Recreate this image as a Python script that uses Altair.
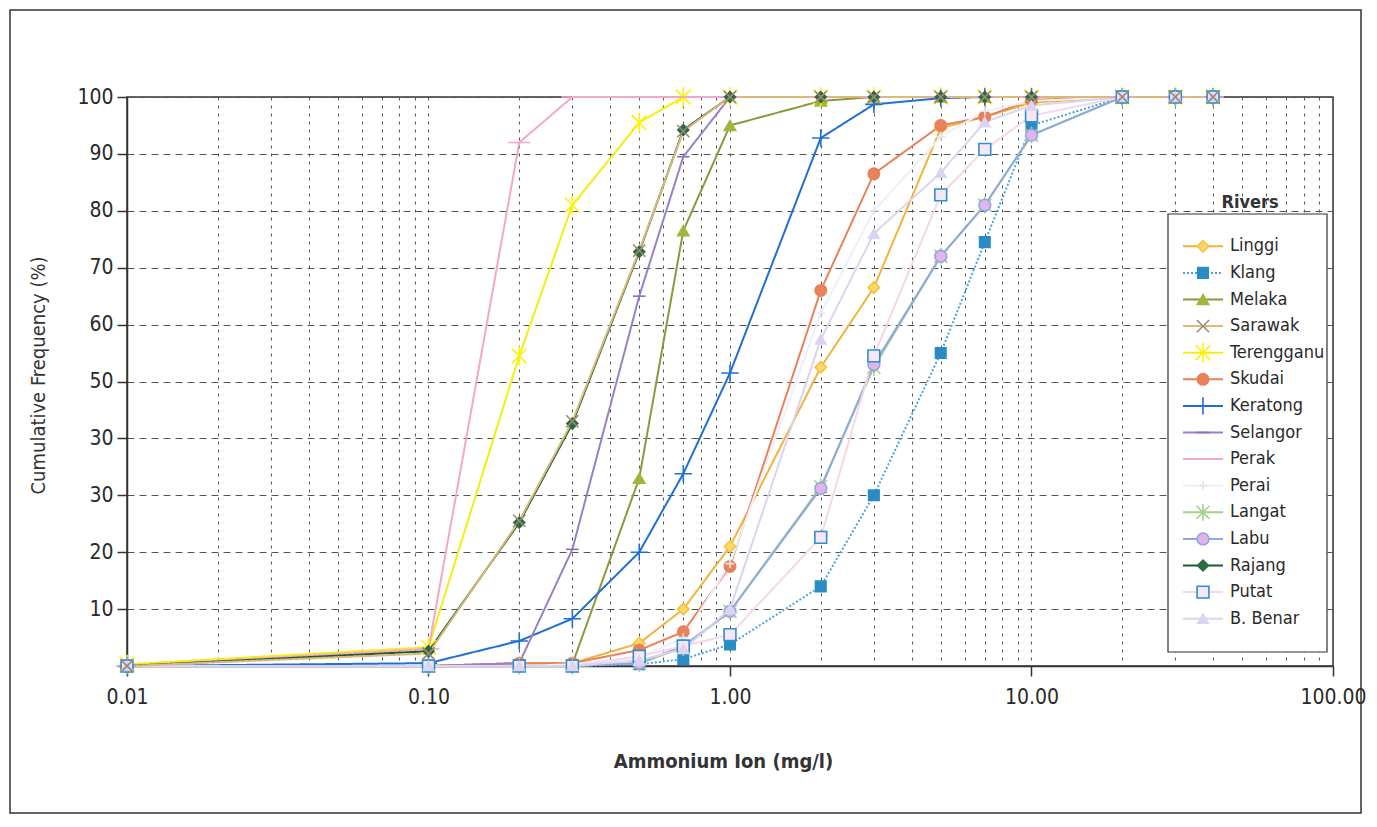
import altair as alt
import pandas as pd

# ---------------- data ----------------
conc = [0.01, 0.1, 0.2, 0.3, 0.5, 0.7, 1, 2, 3, 5, 7, 10, 20, 30, 40]

rivers = ["Linggi", "Klang", "Melaka", "Sarawak", "Terengganu", "Skudai", "Keratong",
          "Selangor", "Perak", "Perai", "Langat", "Labu", "Rajang", "Putat", "B. Benar"]

linggi     = [0, 0, 0.5, 0.5, 4, 10, 21, 52.5, 66.5, 94.5, 96.5, 99, 100, 100, 100]
klang      = [0, 0, 0, 0, 0.3, 1.2, 3.8, 14, 30, 55, 74.5, 95, 100, 100, 100]
melaka     = [0, 0, 0, 0.3, 33, 76.5, 95, 99.3, 100, 100, 100, 100, 100, 100, 100]
sarawak    = [0, 2.2, 25.5, 43, 73, 94, 100, 100, 100, 100, 100, 100, 100, 100, 100]
terengganu = [0.3, 3.3, 54.5, 81, 95.5, 100, 100, 100, 100, 100, 100, 100, 100, 100, 100]
skudai     = [0, 0, 0.5, 0.5, 2.8, 6, 17.5, 66, 86.5, 95, 96.5, 99.5, 100, 100, 100]
keratong   = [0, 0.5, 4.4, 8.3, 20, 33.8, 51.5, 92.8, 98.7, 99.8, 100, 100, 100, 100, 100]
selangor   = [0, 0, 0.5, 20.5, 65, 89.5, 100, 100, 100, 100, 100, 100, 100, 100, 100]
perak      = [0, 3, 92, 100, 100, 100, 100, 100, 100, 100, 100, 100, 100, 100, 100]
perai      = [0, 0, 0, 0.3, 1.5, 5, 18, 62, 80, 93, 97.5, 99.3, 100, 100, 100]
langat     = [0, 0, 0, 0, 0.5, 3.2, 9.6, 31.5, 52.5, 72, 81, 93.3, 100, 100, 100]
labu       = [0, 0, 0, 0, 0.5, 3.5, 9.6, 31.2, 53, 72, 81, 93.3, 100, 100, 100]
rajang     = [0, 2.6, 25.2, 42.6, 72.8, 94.2, 100, 100, 100, 100, 100, 100, 100, 100, 100]
putat      = [0, 0, 0, 0, 1.7, 3.5, 5.5, 22.6, 54.5, 82.8, 90.8, 96.7, 100, 100, 100]
b_benar    = [0, 0, 0, 0, 1, 3, 10, 57.4, 76, 86.7, 95.6, 98.5, 100, 100, 100]

series_values = dict(zip(rivers, [linggi, klang, melaka, sarawak, terengganu, skudai, keratong,
                                  selangor, perak, perai, langat, labu, rajang, putat, b_benar]))

y_ticks = [0, 10, 20, 30, 40, 50, 60, 70, 80, 90, 100]

# ---------------- styles ----------------
line_colors = ["#F2B33D", "#4AA3DF", "#8A9A3C", "#D9BA7A", "#F2EE10", "#E8825A", "#1F6FD6",
               "#9A80C8", "#F4A6CB", "#EDF0F7", "#A8D08D", "#8EA8E0", "#1E5A30", "#F7D6E9", "#DCD3F0"]
fill_colors = ["#FFD966", "#2A8CC4", "#A4B43C", "#A08878", "#FFF200", "#E8825A", "#1F6FD6",
               "#8A6FB8", "#F4A6CB", "#E8ECF4", "#A8D08D", "#E2B4EA", "#2E6B3E", "#F8E6F2", "#DCD3F0"]
stroke_colors = ["#F5C040", "#2A8CC4", "#A4B43C", "#A08878", "#FFF200", "#E8825A", "#1F6FD6",
                 "#8A6FB8", "#F4A6CB", "#E0E6F0", "#A8D08D", "#8EA8E0", "#2E6B3E", "#2F8FD0", "#DCD3F0"]
X_PATH = "M-1,-1L1,1M-1,1L1,-1"
STAR_PATH = "M-1,-1L1,1M-1,1L1,-1M0,-1.3L0,1.3"
PLUS_PATH = "M-1,0L1,0M0,-1L0,1"
DASH_PATH = "M-1,0L1,0"
shapes = ["diamond", "square", "triangle-up", X_PATH, STAR_PATH, "circle", PLUS_PATH,
          DASH_PATH, DASH_PATH, PLUS_PATH, STAR_PATH, "circle", "diamond", "square", "triangle-up"]
marker_sizes = [130, 110, 130, 150, 220, 130, 300, 160, 480, 80, 170, 140, 120, 140, 110]
dashes = [[1, 0]] * 15
dashes[1] = [2, 2]

# drawing order (Sarawak drawn over Rajang, as in the original)
draw_order = [r for r in rivers if r != "Sarawak"] + ["Sarawak"]

rows = []
for name in draw_order:
    vals = series_values[name]
    for i, (c, v) in enumerate(zip(conc, vals)):
        rows.append({"river": name, "conc": c, "freq": v, "i": i,
                     "msize": marker_sizes[rivers.index(name)]})
df = pd.DataFrame(rows)
leg_df = pd.DataFrame({"river": rivers, "msize": marker_sizes})

FONT = "Liberation Sans Narrow, DejaVu Sans Condensed, sans-serif"

color_scale = alt.Scale(domain=rivers, range=line_colors)
fill_scale = alt.Scale(domain=rivers, range=fill_colors)
stroke_scale = alt.Scale(domain=rivers, range=stroke_colors)
shape_scale = alt.Scale(domain=rivers, range=shapes)
dash_scale = alt.Scale(domain=rivers, range=dashes)

minor_vals = []
for e in [-2, -1, 0, 1]:
    for k in range(1, 10):
        minor_vals.append(round(k * 10 ** e, 4))
minor_vals.append(100)

is_decade = "abs(log(datum.value)/LN10 - round(log(datum.value)/LN10)) < 0.000001"

W, H = 1206, 569

x_enc = alt.X("conc:Q",
              scale=alt.Scale(type="log", domain=[0.01, 100], nice=False),
              axis=alt.Axis(values=minor_vals,
                            labelExpr=f"{is_decade} ? format(datum.value, '.2f') : ''",
                            tickOpacity={"condition": {"test": is_decade, "value": 1}, "value": 0},
                            tickSize=10, tickWidth=1.5, tickColor="#333",
                            labelPadding=10, labelFontSize=21, labelFont=FONT, labelColor="#2a2a2a",
                            labelFlush=False,
                            grid=True, gridDash=[3, 5], gridColor="#555", gridWidth=1,
                            domainColor="#333", domainWidth=1.5,
                            title="Ammonium Ion (mg/l)", titleFont=FONT, titleFontSize=20,
                            titleFontWeight="bold", titleColor="#333",
                            titleX=596, titleY=95, titleBaseline="middle"))
y_enc = alt.Y("freq:Q",
              scale=alt.Scale(domain=[0, 100], nice=False),
              axis=alt.Axis(values=y_ticks,
                            labelExpr="datum.value == 0 ? '' : (datum.value == 40 ? '30' : datum.label)",
                            tickSize=10, tickWidth=1.5, tickColor="#333",
                            labelPadding=4, labelFontSize=21, labelFont=FONT, labelColor="#2a2a2a",
                            grid=True, gridDash=[7, 5], gridColor="#555", gridWidth=1,
                            domainColor="#333", domainWidth=1.5,
                            title="Cumulative Frequency (%)", titleFont=FONT, titleFontSize=20,
                            titleFontWeight="normal", titleColor="#333",
                            titleX=-89, titleY=278, titleBaseline="middle", titleAngle=-90))

lines = alt.Chart(df).mark_line(strokeWidth=2).encode(
    x=x_enc, y=y_enc,
    color=alt.Color("river:N", scale=color_scale, legend=None),
    strokeDash=alt.StrokeDash("river:N", scale=dash_scale, legend=None),
    detail="river:N",
    order="i:Q",
)

points = alt.Chart(df).mark_point(filled=True, opacity=1, strokeWidth=1.6).encode(
    x="conc:Q", y="freq:Q",
    shape=alt.Shape("river:N", scale=shape_scale, legend=None),
    fill=alt.Fill("river:N", scale=fill_scale, legend=None),
    stroke=alt.Stroke("river:N", scale=stroke_scale, legend=None),
    size=alt.Size("msize:Q", scale=None, legend=None),
)

main = alt.layer(lines, points)

# ---------------- legend (inside plot) ----------------
leg_y = alt.Y("river:N", scale=alt.Scale(domain=rivers, range=[136, 535]), axis=None)
one = pd.DataFrame({"k": [0]})

box = alt.Chart(one).mark_rect(fill="white", stroke="#333", strokeWidth=1.2).encode(
    x=alt.value(1041), x2=alt.value(1200), y=alt.value(117), y2=alt.value(555))
leg_title = alt.Chart(one).mark_text(text="Rivers", font=FONT, fontSize=18, fontWeight="bold",
                                     color="#333", align="center", baseline="middle").encode(
    x=alt.value(1123), y=alt.value(106))
leg_lines = alt.Chart(leg_df).mark_rule(strokeWidth=2).encode(
    x=alt.value(1056), x2=alt.value(1096), y=leg_y,
    color=alt.Color("river:N", scale=color_scale, legend=None),
    strokeDash=alt.StrokeDash("river:N", scale=dash_scale, legend=None))
leg_pts = alt.Chart(leg_df).mark_point(filled=True, opacity=1, strokeWidth=1.6).encode(
    x=alt.value(1076), y=leg_y,
    shape=alt.Shape("river:N", scale=shape_scale, legend=None),
    fill=alt.Fill("river:N", scale=fill_scale, legend=None),
    stroke=alt.Stroke("river:N", scale=stroke_scale, legend=None),
    size=alt.Size("msize:Q", scale=None, legend=None))
leg_text = alt.Chart(leg_df).mark_text(font=FONT, fontSize=18, color="#2a2a2a",
                                       align="left", baseline="middle").encode(
    x=alt.value(1103), y=leg_y, text="river:N")

legend = alt.layer(box, leg_title, leg_lines, leg_pts, leg_text)

frame = alt.Chart(one).mark_rect(fillOpacity=0, stroke="#333", strokeWidth=1.5).encode(
    x=alt.value(-117), x2=alt.value(1234), y=alt.value(-87), y2=alt.value(716))

chart = alt.layer(main, legend, frame).resolve_scale(y="independent").properties(
    width=W, height=H,
    autosize=alt.AutoSizeParams(type="none"),
    padding={"left": 119, "top": 89, "right": 36, "bottom": 150},
    background="white",
).configure_view(stroke="#333", strokeWidth=1.5)

chart.save("out.html", embed_options={"renderer": "svg", "actions": False})
